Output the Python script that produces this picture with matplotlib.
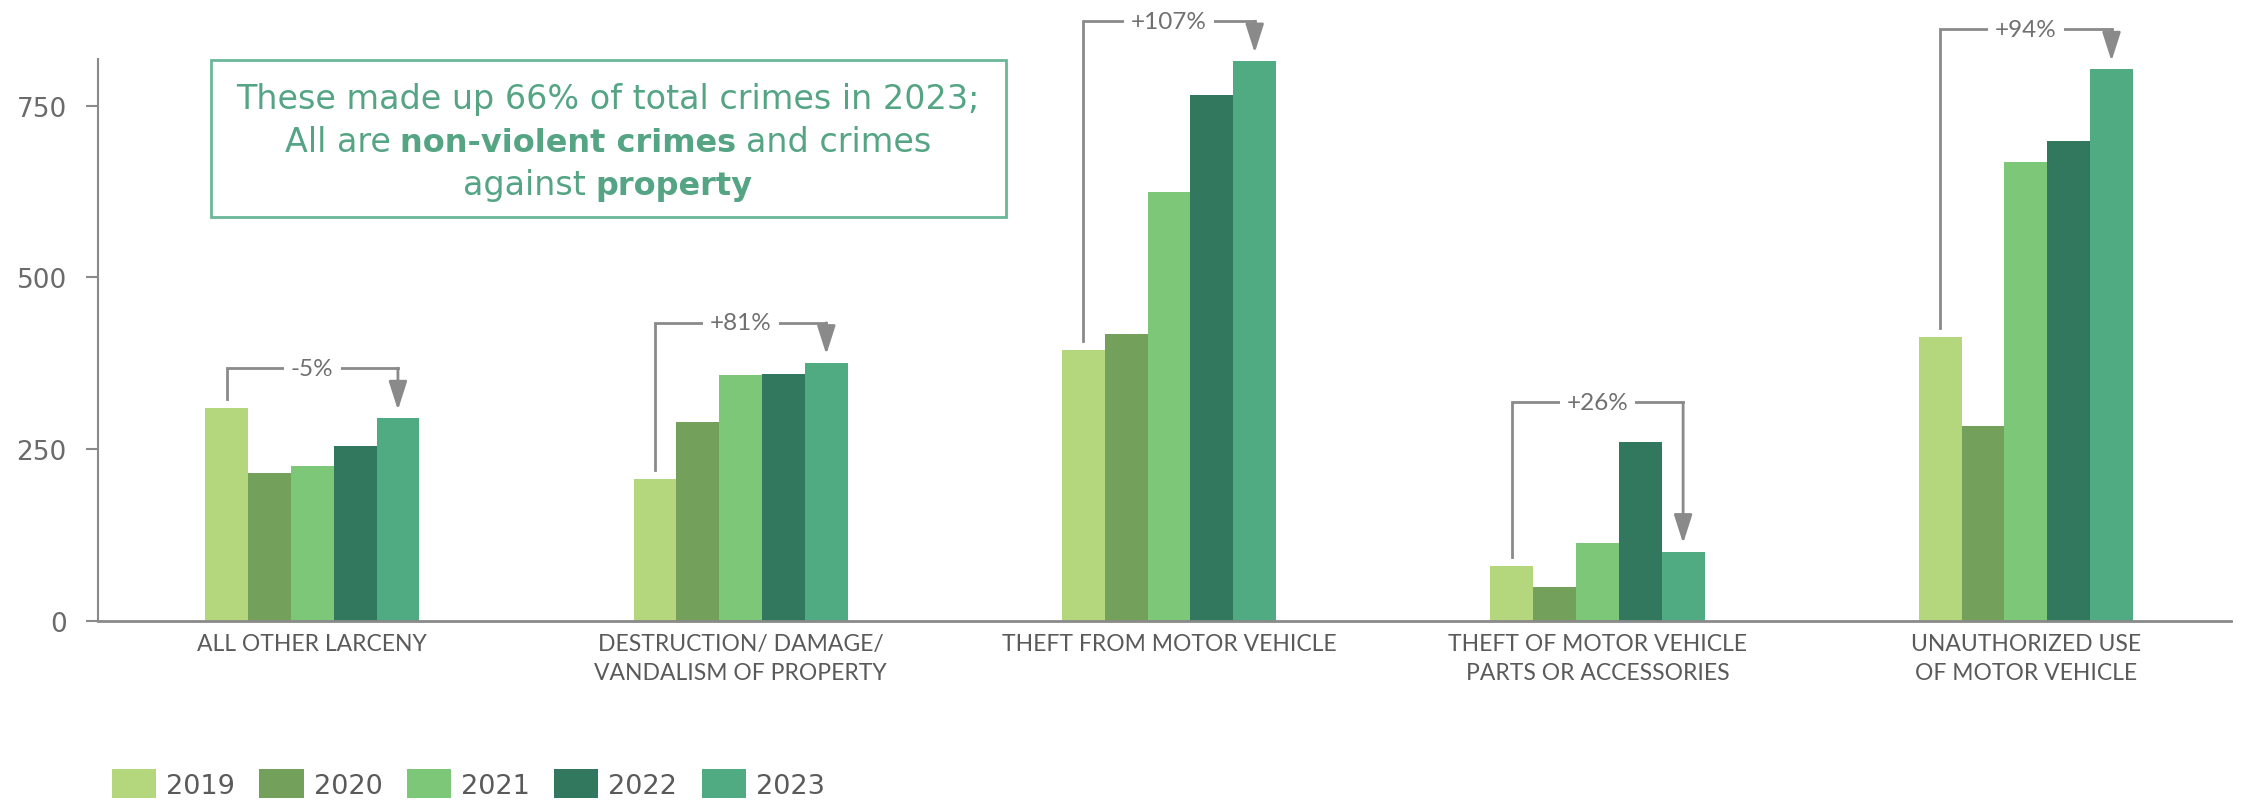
import numpy as np
import matplotlib.pyplot as plt
from matplotlib.offsetbox import TextArea, HPacker, VPacker, AnnotationBbox
from matplotlib.patches import Rectangle

plt.rcParams['font.family'] = ['DejaVu Sans']

categories = ["ALL OTHER LARCENY", "DESTRUCTION/ DAMAGE/\nVANDALISM OF PROPERTY",
              "THEFT FROM MOTOR VEHICLE", "THEFT OF MOTOR VEHICLE\nPARTS OR ACCESSORIES",
              "UNAUTHORIZED USE\nOF MOTOR VEHICLE"]
years = ["2019", "2020", "2021", "2022", "2023"]
v2019 = [310, 207, 394, 80, 414]
v2020 = [215, 289, 418, 49, 284]
v2021 = [225, 358, 625, 114, 668]
v2022 = [255, 360, 765, 260, 698]
v2023 = [295, 376, 815, 101, 803]
changes = ["-5%", "+81%", "+107%", "+26%", "+94%"]

colores = ["#b4d77d", "#73a05a", "#7dc878", "#32785f", "#50aa82"]
gris = "#8a8a8a"
verde = "#55a585"

series = [v2019, v2020, v2021, v2022, v2023]
x = np.arange(len(categories))
ancho = 0.1

fig = plt.figure(figsize=(22.54, 8.04), dpi=100)
ax = fig.add_axes([0.0435, 0.2264, 0.9465, 0.699])

for i, (anio, vals) in enumerate(zip(years, series)):
    ax.bar(x + (i - 2) * ancho, vals, width=ancho, color=colores[i], label=anio, zorder=2)

# corchetes con el cambio 2019 -> 2023
for k in range(len(categories)):
    xl = x[k] - 2 * ancho
    xr = x[k] + 2 * ancho
    ytop = max(s[k] for s in series) + 58
    ax.plot([xl, xl, xr], [v2019[k] + 13, ytop, ytop], color=gris, lw=2,
            solid_joinstyle='miter', zorder=3, clip_on=False)
    ax.annotate('', xy=(xr, v2023[k] + 12), xytext=(xr, ytop),
                arrowprops=dict(arrowstyle='-|>,head_length=0.5,head_width=0.16',
                                color=gris, lw=2, mutation_scale=35,
                                shrinkA=0, shrinkB=0), zorder=3, annotation_clip=False)
    ax.text(x[k], ytop, changes[k], ha='center', va='center', fontsize=17.5,
            family='Lato', color='#707070', zorder=4, clip_on=False,
            bbox=dict(facecolor='white', edgecolor='none', pad=5))

ax.set_xlim(-0.5, 4.48)
ax.set_ylim(0, 818)
ax.set_yticks([0, 250, 500, 750])
ax.set_xticks(x)
ax.set_xticklabels(categories, family='Lato')
for t in ax.get_xticklabels():
    t.set_linespacing(1.45)

ax.spines['top'].set_visible(False)
ax.spines['right'].set_visible(False)
ax.spines['left'].set_color(gris)
ax.spines['bottom'].set_color(gris)
ax.spines['left'].set_linewidth(1.5)
ax.spines['bottom'].set_linewidth(2)
ax.tick_params(axis='y', length=8.5, width=1.5, color=gris, labelsize=19,
               labelcolor='#6b6b6b', pad=14)
ax.tick_params(axis='x', length=0, labelsize=16.5, labelcolor='#5a5a5a', pad=9)

# recuadro con la nota
ax.add_patch(Rectangle((0.053, 0.719), 0.3725, 0.279, transform=ax.transAxes,
                       facecolor='white', edgecolor='#6ab898', lw=2, zorder=5))
normal = dict(color=verde, fontsize=24)
negrita = dict(color=verde, fontsize=23, fontweight='bold')
linea1 = TextArea("These made up 66% of total crimes in 2023;", textprops=normal)
linea2 = HPacker(children=[TextArea("All are", textprops=normal),
                           TextArea("non-violent crimes", textprops=negrita),
                           TextArea("and crimes", textprops=normal)],
                 align='baseline', pad=0, sep=7)
linea3 = HPacker(children=[TextArea("against", textprops=normal),
                           TextArea("property", textprops=negrita)],
                 align='baseline', pad=0, sep=7)
nota = VPacker(children=[linea1, linea2, linea3], align='center', pad=0, sep=7)
ab = AnnotationBbox(nota, (0.239, 0.853), xycoords='axes fraction', frameon=False,
                    box_alignment=(0.5, 0.5), zorder=6)
ax.add_artist(ab)

fig.legend(loc='center left', bbox_to_anchor=(0.0497, 0.0236), ncol=5, frameon=False,
           fontsize=19.5, labelcolor='#5a5a5a', handlelength=1.63, handleheight=1.22,
           handletextpad=0.37, columnspacing=0.9, borderpad=0, borderaxespad=0)

fig.savefig("out.png", dpi=100)
